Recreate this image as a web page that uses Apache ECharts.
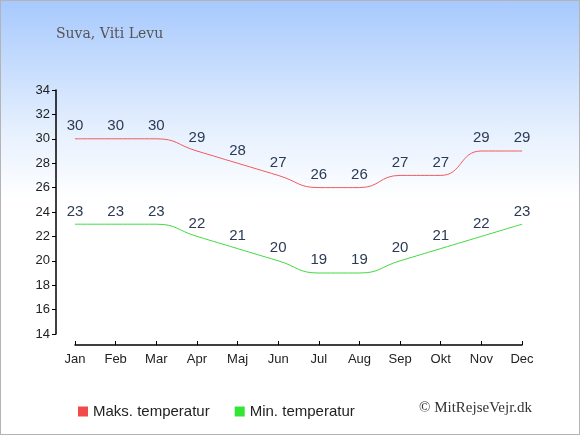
<!DOCTYPE html>
<html lang="da">
<head>
  <meta charset="UTF-8">
  <title>Suva, Viti Levu</title>
  <style>
    body { margin: 0; }
    .wrapper {
      width: 580px; height: 435px; box-sizing: border-box;
      border: 1px solid #b4b4b4;
      background: linear-gradient(to bottom, #a7c9fd 0%, #e6f0fe 30%, #ffffff 46%, #ffffff 100%);
    }
  </style>
</head>
<body>
  <div class="wrapper" id="chart"></div>

  <script src="https://cdn.jsdelivr.net/npm/echarts@6/dist/echarts.min.js"></script>
  <script>
    const months = ['Jan', 'Feb', 'Mar', 'Apr', 'Maj', 'Jun', 'Jul', 'Aug', 'Sep', 'Okt', 'Nov', 'Dec']
    const maxTemp = [30, 30, 30, 29, 28, 27, 26, 26, 27, 27, 29, 29]
    const minTemp = [23, 23, 23, 22, 21, 20, 19, 19, 20, 21, 22, 23]

    const chart = echarts.init(document.getElementById('chart'))
    const labelStyle = {
      show: true,
      position: 'top',
      distance: 5,
      color: '#2b3a55',
      fontSize: 15,
      fontFamily: 'Liberation Sans, Arial, sans-serif'
    }

    const option = {
      animation: false,
      title: {
        text: 'Suva, Viti Levu',
        left: 50,
        top: 21,
        textStyle: { fontFamily: 'DejaVu Serif, serif', fontWeight: 'normal', fontSize: 14, color: '#555' }
      },
      grid: { left: 74, right: 57, top: 89, bottom: 100 },
      xAxis: {
        type: 'category',
        data: months,
        boundaryGap: false,
        offset: 11,
        axisLine: { lineStyle: { color: '#000', width: 1.5 } },
        axisTick: { inside: true, length: 4, lineStyle: { color: '#000' } },
        axisLabel: { color: '#222', fontSize: 13, margin: 8, fontFamily: 'Liberation Sans, Arial, sans-serif' }
      },
      yAxis: {
        type: 'value',
        min: 14,
        max: 34,
        interval: 2,
        offset: 19,
        axisLine: { show: true, lineStyle: { color: '#000', width: 1.5 } },
        axisTick: { show: true, length: 4, lineStyle: { color: '#000' } },
        splitLine: { show: false },
        axisLabel: { color: '#222', fontSize: 13, margin: 6, fontFamily: 'Liberation Sans, Arial, sans-serif' }
      },
      legend: {
        left: 72,
        top: 398,
        itemWidth: 10,
        itemHeight: 10,
        itemGap: 25,
        textStyle: { color: '#222', fontSize: 15, fontFamily: 'Liberation Sans, Arial, sans-serif' },
        data: [
          { name: 'Maks. temperatur', icon: 'rect', itemStyle: { color: '#f24a4a', opacity: 1 } },
          { name: 'Min. temperatur', icon: 'rect', itemStyle: { color: '#33e633', opacity: 1 } }
        ]
      },
      graphic: [{
        type: 'text',
        left: 418,
        top: 400,
        style: { text: '© MitRejseVejr.dk', font: '15px "Liberation Serif", serif', fill: '#333' }
      }],
      series: [
        {
          name: 'Maks. temperatur',
          type: 'line',
          data: maxTemp,
          smooth: 0.5,
          symbol: 'circle',
          symbolSize: 0.5,
          showSymbol: true,
          itemStyle: { color: '#f05a5a' },
          lineStyle: { width: 1, color: '#f05a5a' },
          label: labelStyle
        },
        {
          name: 'Min. temperatur',
          type: 'line',
          data: minTemp,
          smooth: 0.5,
          symbol: 'circle',
          symbolSize: 0.5,
          showSymbol: true,
          itemStyle: { color: '#3ddc3d' },
          lineStyle: { width: 1, color: '#3ddc3d' },
          label: labelStyle
        }
      ]
    }

    chart.setOption(option)
  </script>
</body>
</html>
